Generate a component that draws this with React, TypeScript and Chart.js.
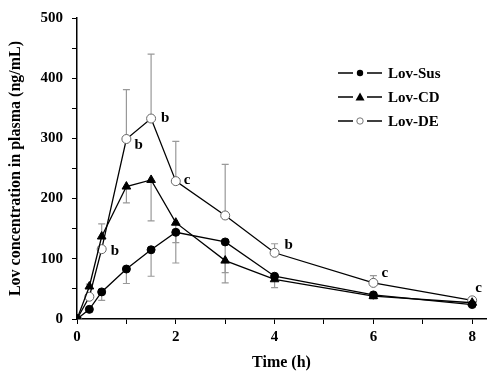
import React, { useEffect, useRef } from 'react';
import { Chart, registerables } from 'chart.js';

Chart.register(...registerables);

// ---- data ----
const timeH = [0, 0.25, 0.5, 1, 1.5, 2, 3, 4, 6, 8];
const lovSus = [0, 16, 45, 83, 115, 144, 128, 71, 40, 24];
const lovCD = [0, 54, 137, 220, 231, 160, 97, 66, 38, 27];
const lovDE = [0, 37, 116, 299, 333, 229, 172, 110, 60, 31];

const susErrLow = [0, 3, 14, 24, 44, 51, 51, 0, 6, 3];
const susErrHigh = [0, 0, 0, 0, 0, 0, 0, 0, 0, 0];
const cdErrLow = [0, 0, 0, 27, 68, 33, 37, 14, 4, 3];
const cdErrHigh = [0, 4, 21, 0, 0, 0, 0, 0, 0, 0];
const deErrLow = [0, 0, 0, 0, 0, 0, 0, 0, 0, 0];
const deErrHigh = [0, 0, 0, 82, 107, 66, 85, 15, 12, 4];

const deLetters = ['', '', 'b', 'b', 'b', 'c', '', 'b', 'c', 'c'];

const seriesNames = ['Lov-Sus', 'Lov-CD', 'Lov-DE'];

const xTickValues = [0, 1, 2, 3, 4, 5, 6, 7, 8];
const xTickLabels = ['0', '', '2', '', '4', '', '6', '', '8'];
const yTickValues = [0, 50, 100, 150, 200, 250, 300, 350, 400, 450, 500];
const yTickLabels = ['0', '', '100', '', '200', '', '300', '', '400', '', '500'];

const xTitle = 'Time (h)';
const yTitle = 'Lov concentration in plasma (ng/mL)';

const FONT = 'Liberation Serif';

const letterOffsets: Record<number, [number, number]> = {
  2: [9, 2],
  3: [8, 6],
  4: [10, 0],
  5: [8, -1],
  7: [10, -8],
  8: [8, -10],
  9: [3, -12],
};

const errorBarPlugin = {
  id: 'errorBars',
  beforeDatasetsDraw(chart: any) {
    const ctx = chart.ctx;
    const y = chart.scales.y;
    const errs = [
      [susErrLow, susErrHigh],
      [cdErrLow, cdErrHigh],
      [deErrLow, deErrHigh],
    ];
    ctx.save();
    ctx.strokeStyle = '#999999';
    ctx.lineWidth = 1.2;
    chart.data.datasets.forEach((ds: any, di: number) => {
      const meta = chart.getDatasetMeta(di);
      const [lo, hi] = errs[di];
      meta.data.forEach((pt: any, i: number) => {
        const v = ds.data[i].y;
        const segs: number[] = [];
        if (lo[i] > 0) segs.push(v - lo[i]);
        if (hi[i] > 0) segs.push(v + hi[i]);
        segs.forEach((end) => {
          const py = y.getPixelForValue(end);
          ctx.beginPath();
          ctx.moveTo(pt.x, pt.y);
          ctx.lineTo(pt.x, py);
          ctx.moveTo(pt.x - 3.5, py);
          ctx.lineTo(pt.x + 3.5, py);
          ctx.stroke();
        });
      });
    });
    ctx.restore();
  },
};

const lettersPlugin = {
  id: 'letters',
  afterDatasetsDraw(chart: any) {
    const ctx = chart.ctx;
    const meta = chart.getDatasetMeta(2);
    ctx.save();
    ctx.fillStyle = '#000';
    ctx.font = `bold 15px "${FONT}"`;
    ctx.textAlign = 'left';
    ctx.textBaseline = 'middle';
    meta.data.forEach((pt: any, i: number) => {
      const t = deLetters[i];
      if (!t) return;
      const off = letterOffsets[i] || [8, 0];
      ctx.fillText(t, pt.x + off[0], pt.y + off[1]);
    });
    ctx.restore();
  },
};

const legendPlugin = {
  id: 'customLegend',
  afterDraw(chart: any) {
    const ctx = chart.ctx;
    const rows = [73, 97, 121];
    ctx.save();
    ctx.font = `bold 15px "${FONT}"`;
    ctx.textBaseline = 'middle';
    ctx.textAlign = 'left';
    seriesNames.forEach((name, i) => {
      const yy = rows[i];
      ctx.strokeStyle = '#000';
      ctx.lineWidth = 1.5;
      ctx.beginPath();
      ctx.moveTo(338, yy);
      ctx.lineTo(353, yy);
      ctx.moveTo(367, yy);
      ctx.lineTo(382, yy);
      ctx.stroke();
      ctx.beginPath();
      if (i === 0) {
        ctx.fillStyle = '#000';
        ctx.arc(360, yy, 3.2, 0, Math.PI * 2);
        ctx.fill();
      } else if (i === 1) {
        ctx.fillStyle = '#000';
        ctx.moveTo(360, yy - 4.5);
        ctx.lineTo(364.5, yy + 3.5);
        ctx.lineTo(355.5, yy + 3.5);
        ctx.closePath();
        ctx.fill();
      } else {
        ctx.fillStyle = '#fff';
        ctx.strokeStyle = '#777';
        ctx.lineWidth = 1;
        ctx.arc(360, yy, 3.2, 0, Math.PI * 2);
        ctx.fill();
        ctx.stroke();
      }
      ctx.fillStyle = '#000';
      ctx.fillText(name, 388, yy + 1);
    });
    ctx.restore();
  },
};

export default function App() {
  const ref = useRef<HTMLCanvasElement>(null);

  useEffect(() => {
    if (!ref.current) return;
    const mk = (vals: number[]) => timeH.map((t, i) => ({ x: t, y: vals[i] }));
    const tickFont = { family: FONT, size: 15, weight: 'bold' as const };
    const chart = new Chart(ref.current, {
      type: 'line',
      data: {
        datasets: [
          {
            label: seriesNames[0],
            data: mk(lovSus),
            borderColor: '#000',
            borderWidth: 1.3,
            pointStyle: 'circle',
            pointRadius: 4,
            pointBackgroundColor: '#000',
            pointBorderColor: '#000',
            pointBorderWidth: 1,
            tension: 0,
          },
          {
            label: seriesNames[1],
            data: mk(lovCD),
            borderColor: '#000',
            borderWidth: 1.3,
            pointStyle: 'triangle',
            pointRadius: 5,
            pointBackgroundColor: '#000',
            pointBorderColor: '#000',
            pointBorderWidth: 1,
            tension: 0,
          },
          {
            label: seriesNames[2],
            data: mk(lovDE),
            borderColor: '#000',
            borderWidth: 1.3,
            pointStyle: 'circle',
            pointRadius: 4.5,
            pointBackgroundColor: '#fff',
            pointBorderColor: '#666',
            pointBorderWidth: 1,
            tension: 0,
          },
        ],
      },
      options: {
        responsive: false,
        animation: false,
        layout: { padding: { top: 15, right: 4, left: 0, bottom: 0 } },
        plugins: {
          legend: { display: false },
          tooltip: { enabled: false },
        },
        scales: {
          x: {
            type: 'linear',
            min: 0,
            max: 8.28,
            afterBuildTicks: (s: any) => {
              s.ticks = xTickValues.map((v) => ({ value: v }));
            },
            afterFit: (s: any) => {
              s.height = 54;
            },
            ticks: {
              autoSkip: false,
              maxRotation: 0,
              padding: 4,
              color: '#000',
              font: tickFont,
              callback: (_v: any, i: number) => xTickLabels[i],
            },
            grid: {
              drawOnChartArea: false,
              drawTicks: true,
              tickLength: 5,
              color: '#000',
              lineWidth: 1,
            },
            border: { display: true, color: '#000', width: 1.5 },
            title: {
              display: true,
              text: xTitle,
              color: '#000',
              font: { family: FONT, size: 16, weight: 'bold' },
              padding: { top: 0, bottom: 1 },
            },
          },
          y: {
            type: 'linear',
            min: 0,
            max: 500,
            afterBuildTicks: (s: any) => {
              s.ticks = yTickValues.map((v) => ({ value: v }));
            },
            afterFit: (s: any) => {
              s.width = 77;
            },
            ticks: {
              autoSkip: false,
              padding: 9,
              color: '#000',
              font: tickFont,
              callback: (_v: any, i: number) => yTickLabels[i],
            },
            grid: {
              drawOnChartArea: false,
              drawTicks: true,
              tickLength: 5,
              color: '#000',
              lineWidth: 1,
            },
            border: { display: true, color: '#000', width: 1.5 },
            title: {
              display: true,
              text: yTitle,
              color: '#000',
              font: { family: FONT, size: 16, weight: 'bold' },
              padding: { top: 6, bottom: 0 },
            },
          },
        },
      },
      plugins: [errorBarPlugin, lettersPlugin, legendPlugin],
    });
    return () => chart.destroy();
  }, []);

  return (
    <div style={{ position: 'absolute', left: 0, top: 0, width: 492, height: 373, background: '#fff' }}>
      <canvas ref={ref} width={492} height={373} style={{ display: 'block' }} />
    </div>
  );
}
